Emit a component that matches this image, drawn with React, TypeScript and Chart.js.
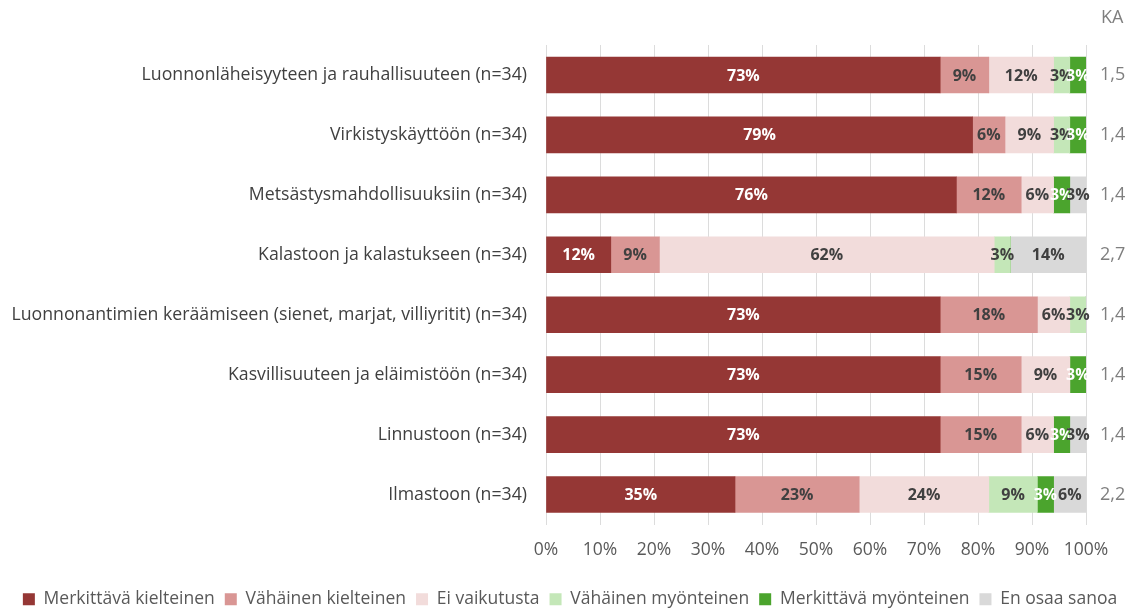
import React, { useEffect, useRef } from "react";
import { Chart, registerables } from "chart.js";

Chart.register(...registerables);

const categories = [
  "Luonnonläheisyyteen ja rauhallisuuteen (n=34)",
  "Virkistyskäyttöön (n=34)",
  "Metsästysmahdollisuuksiin (n=34)",
  "Kalastoon ja kalastukseen (n=34)",
  "Luonnonantimien keräämiseen (sienet, marjat, villiyritit) (n=34)",
  "Kasvillisuuteen ja eläimistöön (n=34)",
  "Linnustoon (n=34)",
  "Ilmastoon (n=34)",
];

const seriesNames = [
  "Merkittävä kielteinen",
  "Vähäinen kielteinen",
  "Ei vaikutusta",
  "Vähäinen myönteinen",
  "Merkittävä myönteinen",
  "En osaa sanoa",
];

const merkittavaKielteinen = [73, 79, 76, 12, 73, 73, 73, 35];
const vahainenKielteinen = [9, 6, 12, 9, 18, 15, 15, 23];
const eiVaikutusta = [12, 9, 6, 62, 6, 9, 6, 24];
const vahainenMyonteinen = [3, 3, 0, 3, 3, 0, 0, 9];
const merkittavaMyonteinen = [3, 3, 3, 0, 0, 3, 3, 3];
const enOsaaSanoa = [0, 0, 3, 14, 0, 0, 3, 6];

const kaValues = ["1,5", "1,4", "1,4", "2,7", "1,4", "1,4", "1,4", "2,2"];

const xTicks = [0, 10, 20, 30, 40, 50, 60, 70, 80, 90, 100];

const colors = ["#953735", "#d99694", "#f2dcdb", "#c4e7b8", "#4ba42d", "#d9d9d9"];
const labelColors = ["#ffffff", "#404040", "#404040", "#404040", "#ffffff", "#404040"];

const FONT = "'Open Sans', Lato, sans-serif";

const segLabelPlugin = {
  id: "segLabels",
  afterDatasetsDraw(chart: any) {
    const ctx = chart.ctx;
    ctx.save();
    ctx.font = `bold 16px ${FONT}`;
    ctx.textAlign = "center";
    ctx.textBaseline = "middle";
    chart.data.datasets.forEach((ds: any, di: number) => {
      const meta = chart.getDatasetMeta(di);
      meta.data.forEach((el: any, i: number) => {
        const v = ds.data[i];
        if (!v) return;
        ctx.fillStyle = labelColors[di];
        ctx.fillText(v + "%", (el.x + el.base) / 2, el.y + 1);
      });
    });
    ctx.restore();
  },
};

const kaHeaderPlugin = {
  id: "kaHeader",
  afterDraw(chart: any) {
    const ctx = chart.ctx;
    const ka = chart.scales.ka;
    ctx.save();
    ctx.font = `18px ${FONT}`;
    ctx.fillStyle = "#7f7f7f";
    ctx.textAlign = "left";
    ctx.textBaseline = "middle";
    ctx.fillText("KA", ka.left + 15, 18);
    ctx.restore();
  },
};

export default function App() {
  const ref = useRef<HTMLCanvasElement>(null);
  useEffect(() => {
    document.body.style.margin = "0";
    const series = [
      merkittavaKielteinen,
      vahainenKielteinen,
      eiVaikutusta,
      vahainenMyonteinen,
      merkittavaMyonteinen,
      enOsaaSanoa,
    ];
    const chart = new Chart(ref.current!, {
      type: "bar",
      data: {
        labels: categories,
        datasets: series.map((d, i) => ({
          label: seriesNames[i],
          data: d,
          backgroundColor: colors[i],
          borderWidth: 0,
          barThickness: 36,
        })),
      },
      options: {
        indexAxis: "y",
        animation: false,
        responsive: false,
        layout: { padding: { top: 45, right: 0, left: 0, bottom: -8 } },
        plugins: {
          legend: {
            position: "bottom",
            labels: {
              boxWidth: 12,
              boxHeight: 12,
              font: { family: FONT, size: 17.5 },
              color: "#595959",
              padding: 10,
            },
          },
          tooltip: { enabled: false },
        },
        scales: {
          x: {
            stacked: true,
            min: 0,
            max: 100,
            afterBuildTicks(scale: any) {
              scale.ticks = xTicks.map((v) => ({ value: v }));
            },
            afterFit(scale: any) {
              scale.height = 56;
            },
            ticks: {
              callback: (v: any) => v + "%",
              color: "#595959",
              font: { family: FONT, size: 17.5 },
              padding: 15,
            },
            grid: { color: "#dcdcdc", drawTicks: false },
            border: { display: false },
          },
          y: {
            stacked: true,
            afterFit(scale: any) {
              scale.width = 546;
            },
            ticks: {
              color: "#404040",
              font: { family: FONT, size: 17.7 },
              padding: 19,
            },
            grid: { display: false, drawTicks: false },
            border: { display: false },
          },
          ka: {
            type: "category",
            position: "right",
            labels: kaValues,
            offset: true,
            afterFit(scale: any) {
              scale.width = 54;
            },
            ticks: {
              color: "#7f7f7f",
              font: { family: FONT, size: 18 },
              padding: 14,
            },
            grid: { display: false, drawTicks: false },
            border: { display: false },
          },
        },
      },
      plugins: [segLabelPlugin, kaHeaderPlugin],
    });
    return () => chart.destroy();
  }, []);
  return <canvas ref={ref} width={1140} height={610} style={{ display: "block" }} />;
}
